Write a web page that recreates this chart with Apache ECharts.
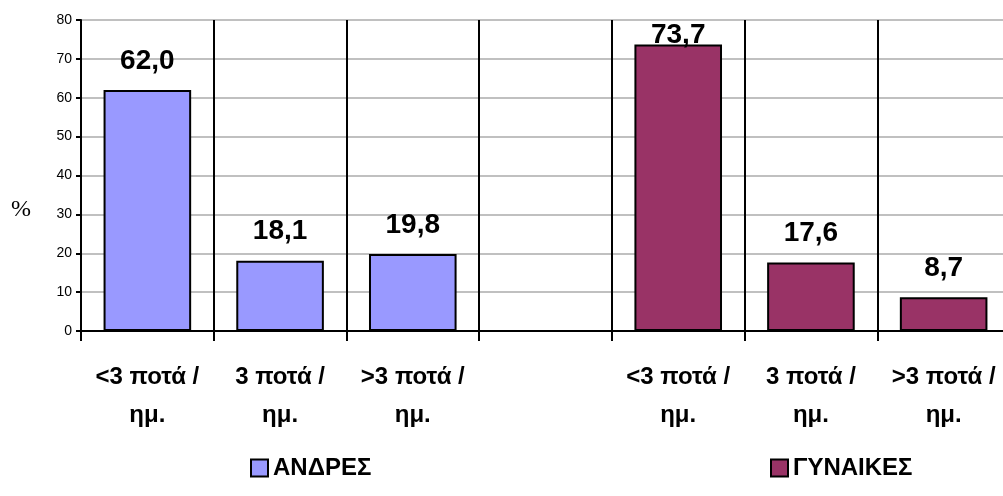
<!DOCTYPE html>
<html>
<head>
<meta charset="utf-8">
<script src="https://cdn.jsdelivr.net/npm/echarts@6/dist/echarts.min.js"></script>
<style>
  html, body { margin: 0; padding: 0; background: #fff; }
  #main { width: 1003px; height: 496px; }
</style>
</head>
<body>
<div id="main"></div>
<script>
var categories = ['<3 ποτά /\nημ.', '3 ποτά /\nημ.', '>3 ποτά /\nημ.', '', '<3 ποτά /\nημ.', '3 ποτά /\nημ.', '>3 ποτά /\nημ.'];
var andres = [62.0, 18.1, 19.8, '-', '-', '-', '-'];
var gynaikes = ['-', '-', '-', '-', 73.7, 17.6, 8.7];
var yTicks = [0, 80, 10];

var myChart = echarts.init(document.getElementById('main'));

function fmt(p) {
    return p.value.toFixed(1).replace('.', ',');
}

var labelStyle = {
    show: true,
    position: 'top',
    distance: 15,
    formatter: fmt,
    color: '#000',
    fontFamily: 'Liberation Sans',
    fontWeight: 'bold',
    fontSize: 28
};

var legendText = { fontFamily: 'Liberation Sans', fontWeight: 'bold', fontSize: 24, color: '#000' };

var option = {
    animation: false,
    grid: { left: 81, top: 20, width: 929, bottom: 165, outerBoundsMode: 'none' },
    legend: [
        {
            data: ['ΑΝΔΡΕΣ'],
            left: 245, top: 451,
            icon: 'rect',
            itemWidth: 17, itemHeight: 17, itemGap: 5,
            itemStyle: { borderColor: '#000', borderWidth: 2 },
            textStyle: legendText
        },
        {
            data: ['ΓΥΝΑΙΚΕΣ'],
            left: 765, top: 451,
            icon: 'rect',
            itemWidth: 17, itemHeight: 17,
            itemStyle: { borderColor: '#000', borderWidth: 2 },
            textStyle: legendText
        }
    ],
    graphic: [{
        type: 'text',
        left: 11, top: 198,
        style: { text: '%', font: '24px "Liberation Serif"', fill: '#000' }
    }],
    xAxis: {
        type: 'category',
        data: categories,
        axisLine: { lineStyle: { color: '#000', width: 2 } },
        axisTick: { show: true, length: 10, lineStyle: { color: '#000', width: 2 } },
        splitLine: { show: true, interval: 0, lineStyle: { color: '#000', width: 2 } },
        axisLabel: {
            interval: 0,
            margin: 27,
            color: '#000',
            fontFamily: 'Liberation Sans',
            fontWeight: 'bold',
            fontSize: 24,
            lineHeight: 38
        }
    },
    yAxis: {
        type: 'value',
        min: yTicks[0], max: yTicks[1], interval: yTicks[2],
        axisLine: { show: true, lineStyle: { color: '#000', width: 2 } },
        axisTick: { show: true, length: 5, lineStyle: { color: '#000', width: 2 } },
        axisLabel: { color: '#000', fontFamily: 'Liberation Sans', fontSize: 14, margin: 9 },
        splitLine: { lineStyle: { color: '#c0c0c0', width: 2 } }
    },
    series: [
        {
            name: 'ΑΝΔΡΕΣ',
            type: 'bar',
            data: andres,
            barWidth: '66%',
            barGap: '-100%',
            itemStyle: { color: '#9999FF', borderColor: '#000', borderWidth: 2 },
            label: labelStyle
        },
        {
            name: 'ΓΥΝΑΙΚΕΣ',
            type: 'bar',
            data: gynaikes.map(function (v, i) {
                if (i === 4) return { value: v, label: { distance: -5 } };
                return v;
            }),
            barWidth: '66%',
            itemStyle: { color: '#993366', borderColor: '#000', borderWidth: 2 },
            label: labelStyle
        }
    ]
};

myChart.setOption(option);
</script>
</body>
</html>
